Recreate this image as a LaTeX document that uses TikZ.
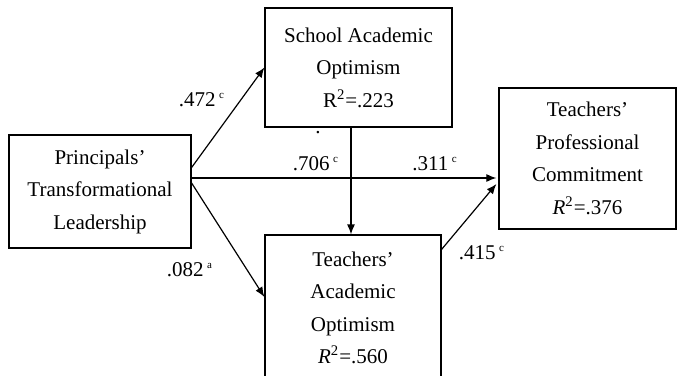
\documentclass[tikz,border=0pt]{standalone}
\usepackage{fontspec}
\setmainfont{Liberation Serif}
\usetikzlibrary{arrows.meta}
\tikzset{every node/.style={inner sep=0pt,font=\fontsize{10.5}{16.25}\selectfont}}
\tikzset{box/.style={rectangle,draw,line width=0.6pt,align=center}}
\tikzset{arr/.style={line width=0.6pt,-{Latex[length=5pt,width=4pt]}}}
\newcommand{\sig}[1]{\,\textsuperscript{\fontsize{5.5}{6}\selectfont #1}}

\begin{document}
\begin{tikzpicture}[x=0.5pt,y=-0.5pt]
      \useasboundingbox (0,0) rectangle (677,376);
      \node[box,minimum width=91pt,minimum height=56.5pt] (PTL) at (100,191.5)
        {Principals’\\Transformational\\Leadership};
      \node[box,minimum width=93.5pt,minimum height=59.5pt] (SAO) at (358.5,67.5)
        {School Academic\\Optimism\\R\textsuperscript{2}=.223};
      \node[box,minimum width=88.5pt,minimum height=70.5pt] (TPC) at (587.5,158.5)
        {Teachers’\\Professional\\Commitment\\\textit{R}\textsuperscript{2}=.376};
      \node[box,minimum width=88pt,minimum height=73pt] (TAO) at (353,308)
        {Teachers’\\Academic\\Optimism\\\textit{R}\textsuperscript{2}=.560};
      \node (l472) at (202,100) {.472\sig{c}};
      \node (dot) at (318,133) {.};
      \node (l706) at (316,164) {.706\sig{c}};
      \node (l311) at (435,164) {.311\sig{c}};
      \node (l082) at (190,270) {.082\sig{a}};
      \node (l415) at (482,253) {.415\sig{c}};
      \draw[arr] ([yshift=12pt]PTL.east) -- (SAO.west);
      \draw[arr] ([yshift=6.75pt]PTL.east) -- ([yshift=6.75pt,xshift=-1pt]PTL.east -| TPC.west);
      \draw[arr] ([yshift=4.25pt]PTL.east) -- ([yshift=5.5pt]TAO.west);
      \draw[arr] ([xshift=-1pt]TAO.north |- SAO.south) -- ([xshift=-1pt]TAO.north);
      \draw[arr] ([yshift=-7.5pt]TAO.north east) -- ([yshift=-12.75pt,xshift=-1pt]TPC.west);
    \end{tikzpicture}
\end{document}
